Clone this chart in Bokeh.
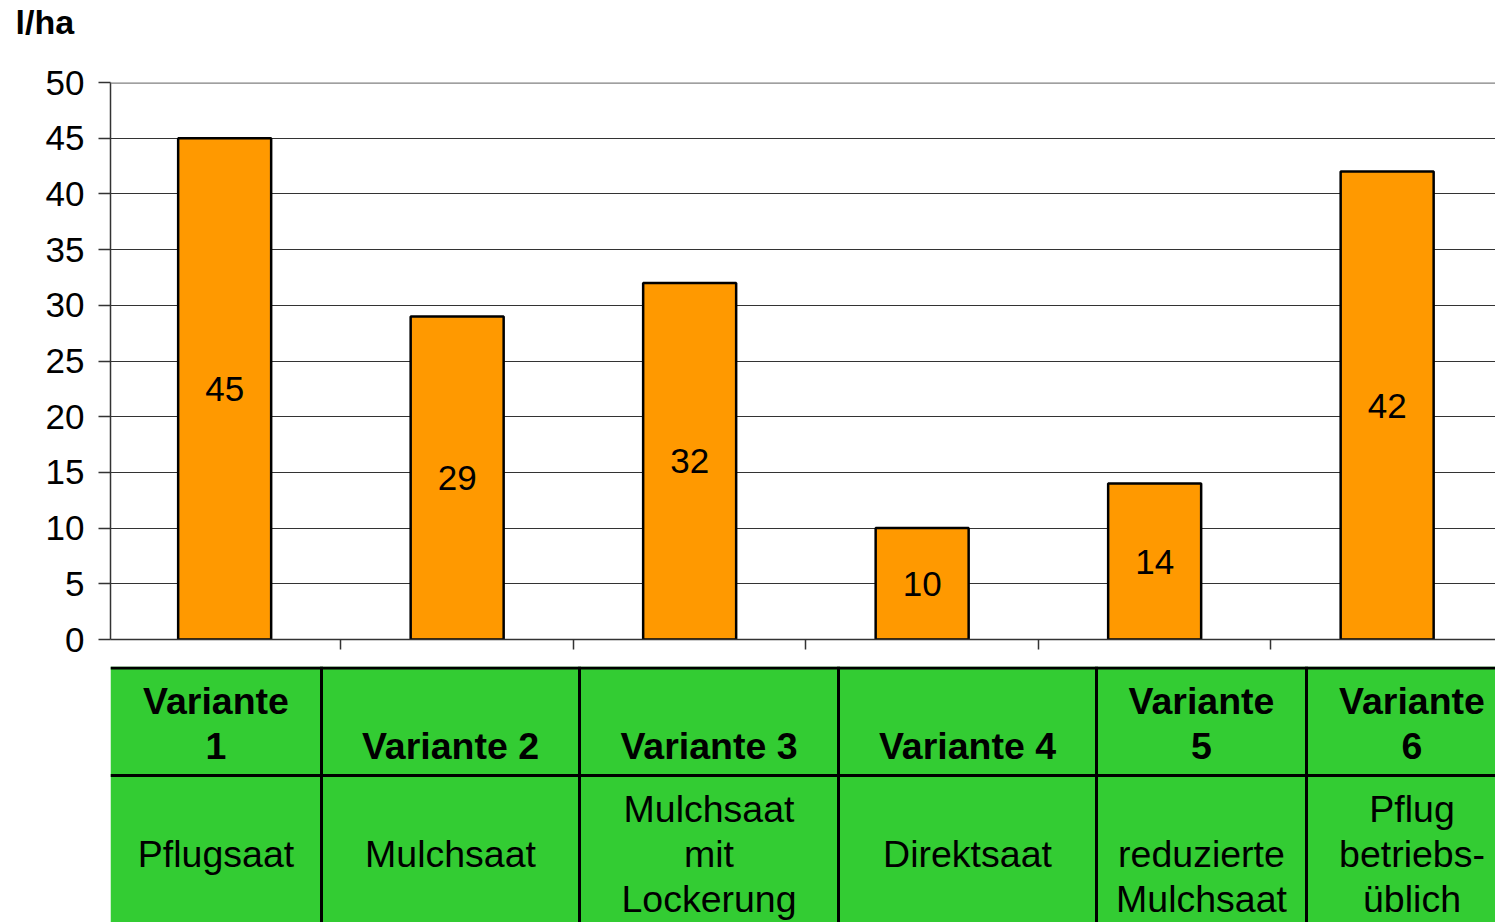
from bokeh.plotting import figure
from bokeh.models import Range1d, FixedTicker, Span, ColumnDataSource
from bokeh.layouts import column
from bokeh.core.properties import value
from bokeh.embed import file_html
from bokeh.resources import INLINE

# ---------------- data ----------------
categories = ["Variante 1", "Variante 2", "Variante 3", "Variante 4", "Variante 5", "Variante 6"]
values = [45, 29, 32, 10, 14, 42]
y_ticks = [0, 5, 10, 15, 20, 25, 30, 35, 40, 45, 50]
unit_label = "l/ha"
header_texts = ["Variante\n1", "Variante 2", "Variante 3", "Variante 4", "Variante\n5", "Variante\n6"]
body_texts = ["Pflugsaat", "Mulchsaat", "Mulchsaat\nmit\nLockerung", "Direktsaat",
              "reduzierte\nMulchsaat", "Pflug\nbetriebs-\nüblich"]

FONT = value("Liberation Sans")
ORANGE = "#FF9900"
GREEN = "#33CC33"
LEFT = 110
W = 1495

# ---------------- unit label strip ----------------
top = figure(width=W, height=62, x_range=Range1d(0, 1), y_range=Range1d(0, 1),
             output_backend="svg", toolbar_location=None, title=unit_label,
             x_axis_location=None, y_axis_location=None,
             min_border_left=LEFT, min_border_right=0, min_border_top=0, min_border_bottom=0)
top.outline_line_color = None
top.grid.visible = False
top.background_fill_color = "white"
top.border_fill_color = "white"
top.title.text_font = "Liberation Sans"
top.title.text_font_size = "34px"
top.title.text_font_style = "bold"
top.title.text_color = "black"
top.title.align = "left"
top.title.offset = -95
top.title.standoff = 0

# ---------------- chart ----------------
xs = [i + 0.5 for i in range(len(categories))]
src = ColumnDataSource(dict(
    x=xs, v=values, mid=[v / 2 for v in values], lbl=[str(v) for v in values], cat=categories))

p = figure(width=W, height=604, x_range=Range1d(0.009, 5.966), y_range=Range1d(0, 50),
           output_backend="svg", toolbar_location=None,
           min_border_left=LEFT, min_border_top=20, min_border_bottom=27, min_border_right=0)
p.background_fill_color = "white"
p.border_fill_color = "white"
p.outline_line_color = None

p.vbar(x="x", top="v", bottom=0, width=0.4, source=src,
       fill_color=ORANGE, line_color="black", line_width=2.5)
p.text(x="x", y="mid", text="lbl", source=src, text_align="center", text_baseline="middle",
       text_font=FONT, text_font_size="35px", text_color="black")

# axes
p.yaxis.ticker = FixedTicker(ticks=y_ticks)
p.yaxis.major_tick_out = 12
p.yaxis.major_tick_in = 0
p.yaxis.minor_tick_line_color = None
p.yaxis.major_label_text_font = "Liberation Sans"
p.yaxis.major_label_text_font_size = "35px"
p.yaxis.major_label_text_color = "black"
p.yaxis.major_label_standoff = 14
p.yaxis.axis_line_color = "#333333"
p.yaxis.axis_line_width = 1.5
p.yaxis.major_tick_line_color = "#333333"
p.yaxis.major_tick_line_width = 1.5

p.xaxis.ticker = FixedTicker(ticks=list(range(len(categories))))
p.xaxis.major_tick_out = 10
p.xaxis.major_tick_in = 0
p.xaxis.minor_tick_line_color = None
p.xaxis.major_label_text_color = None
p.xaxis.major_label_text_font_size = "1px"
p.xaxis.major_label_standoff = 0
p.xaxis.axis_line_color = "#333333"
p.xaxis.axis_line_width = 1.5
p.xaxis.major_tick_line_color = "#333333"
p.xaxis.major_tick_line_width = 1.5

p.xgrid.grid_line_color = None
p.ygrid.ticker = FixedTicker(ticks=y_ticks[1:-1])
p.ygrid.grid_line_color = "#333333"
p.ygrid.grid_line_width = 1

p.add_layout(Span(location=y_ticks[-1], dimension="width", line_color="#808080", line_width=2.5))

# ---------------- table ----------------
col_edges = [110, 321, 579, 838, 1096, 1306, 1517]
TH = 256
t = figure(width=W, height=TH, x_range=Range1d(LEFT, W), y_range=Range1d(TH, 0),
           output_backend="svg", toolbar_location=None,
           x_axis_location=None, y_axis_location=None,
           min_border_left=LEFT, min_border_right=0, min_border_top=0, min_border_bottom=0)
t.outline_line_color = None
t.background_fill_color = "white"
t.border_fill_color = "white"
t.grid.visible = False

t.quad(left=[col_edges[0]], right=[col_edges[-1]], top=[0], bottom=[300],
       fill_color=GREEN, line_color=None)

seg_x0, seg_y0, seg_x1, seg_y1 = [], [], [], []
for yy in [1.5, 109]:
    seg_x0.append(col_edges[0]); seg_x1.append(col_edges[-1]); seg_y0.append(yy); seg_y1.append(yy)
for xx in col_edges[1:-1]:
    seg_x0.append(xx); seg_x1.append(xx); seg_y0.append(0); seg_y1.append(300)
t.segment(x0=seg_x0, y0=seg_y0, x1=seg_x1, y1=seg_y1, line_color="black", line_width=3)

LINE_H = 45
hx, hy, ht = [], [], []
bx, by, bt = [], [], []
for i in range(len(categories)):
    cx = (col_edges[i] + col_edges[i + 1]) / 2
    lines = header_texts[i].split("\n")
    n = len(lines)
    for k, ln in enumerate(lines):
        hx.append(cx); hy.append(79 - (n - 1 - k) * LINE_H); ht.append(ln)
    lines = body_texts[i].split("\n")
    n = len(lines)
    last = 187 if n == 1 else 232
    for k, ln in enumerate(lines):
        bx.append(cx); by.append(last - (n - 1 - k) * LINE_H); bt.append(ln)

t.text(x=hx, y=hy, text=ht, text_align="center", text_baseline="middle", text_font=FONT,
       text_font_size="37.5px", text_font_style="bold", text_color="black")
t.text(x=bx, y=by, text=bt, text_align="center", text_baseline="middle", text_font=FONT,
       text_font_size="37.5px", text_color="black")

layout = column(top, p, t, spacing=0)
open("out.html", "w").write(file_html(layout, INLINE))
